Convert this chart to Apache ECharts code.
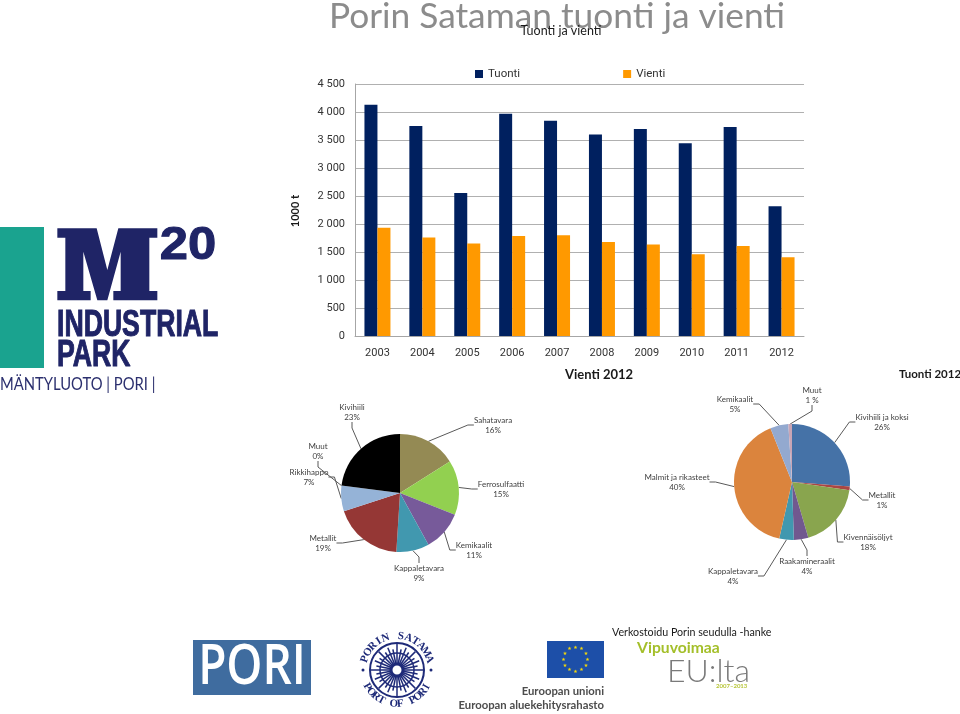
<!DOCTYPE html>
<html>
<head>
<meta charset="utf-8">
<title>Porin Sataman tuonti ja vienti</title>
<script src="https://cdn.jsdelivr.net/npm/echarts@6/dist/echarts.min.js"></script>
<style>
html, body { margin: 0; padding: 0; background: #fff; }
#main { width: 960px; height: 714px; }
</style>
</head>
<body>
<div id="main"></div>
<script>
// bar chart, 1000 t
const years = ['2003', '2004', '2005', '2006', '2007', '2008', '2009', '2010', '2011', '2012'];
const tuonti = [4130, 3750, 2555, 3970, 3845, 3600, 3695, 3440, 3730, 2315];
const vienti = [1935, 1760, 1650, 1785, 1800, 1680, 1635, 1460, 1605, 1405];

// pies, %
const vientiNames = ['Sahatavara', 'Ferrosulfaatti', 'Kemikaalit', 'Kappaletavara', 'Metallit', 'Rikkihappo', 'Muut', 'Kivihiili'];
const vientiShares = [16, 15, 11, 9, 19, 7, 0, 23];
const tuontiNames = ['Kivihiili ja koksi', 'Metallit', 'Kivennäisöljyt', 'Raakamineraalit', 'Kappaletavara', 'Malmit ja rikasteet', 'Kemikaalit', 'Muut'];
const tuontiShares = [26, 1, 18, 4, 4, 40, 5, 1];

const vientiColors = ['#948A54', '#92D050', '#775A9A', '#4198AF', '#953735', '#95B3D7', '#BBBBBB', '#000000'];
const tuontiColors = ['#4572A7', '#AA4643', '#89A54E', '#71588F', '#4198AF', '#DB843D', '#93A9CF', '#C9A5B5'];

// label centres of the pies, same order as the names
const vientiSpots = [[493, 425], [501, 489], [474, 550], [419, 573], [323, 543], [309, 477], [318, 451], [352, 412]];
const tuontiSpots = [[882, 422], [882, 500], [868, 542], [807, 566], [733, 576], [677, 482], [735, 404], [812, 395]];

const FONT = 'Lato';
const AXIS_FONT = 'Roboto';

function pieSeries(names, shares, colors, spots, center, radius) {
  return {
    type: 'pie',
    center: center,
    radius: radius,
    startAngle: 90,
    clockwise: true,
    avoidLabelOverlap: false,
    stillShowZeroSum: true,
    animation: false,
    data: names.map((n, i) => ({ name: n, value: shares[i], itemStyle: { color: colors[i] } })),
    label: {
      show: true,
      fontFamily: FONT,
      fontSize: 8,
      lineHeight: 10,
      color: '#404040',
      align: 'center',
      formatter: p => p.name + '\n' + p.value + (names === tuontiNames && p.name === 'Muut' ? ' %' : '%')
    },
    labelLine: { show: true, length: 8, length2: 6, lineStyle: { color: '#595959', width: 1 } },
    labelLayout: p => ({ x: spots[p.dataIndex][0], y: spots[p.dataIndex][1], align: 'center', verticalAlign: 'middle' })
  };
}

// logos and loose texts
const graphics = [];
function txt(x, y, text, size, color, extra) {
  const o = Object.assign({ x: x, y: y, text: text, fontFamily: FONT, fontSize: size, fill: color, textAlign: 'left', textVerticalAlign: 'middle' }, extra && extra.style);
  graphics.push(Object.assign({ type: 'text', silent: true, style: o }, extra && extra.el));
}

txt(557, 17, 'Porin Sataman tuonti ja vienti', 35.3, '#8c8c8c', { style: { textAlign: 'center' } });
txt(561, 31, 'Tuonti ja vienti', 12.5, '#1a1a1a', { style: { textAlign: 'center' } });
txt(295, 211, '1000 t', 11, '#1a1a1a', { style: { textAlign: 'center', fontWeight: 'bold' }, el: { x: 0, y: 0, rotation: Math.PI / 2, originX: 295, originY: 211 } });
txt(599, 375, 'Vienti 2012', 13, '#1a1a1a', { style: { textAlign: 'center', fontWeight: 'bold' } });
txt(930, 374, 'Tuonti 2012', 11.5, '#1a1a1a', { style: { textAlign: 'center', fontWeight: 'bold' } });

// M20 logo
const navy = '#1F2466';
graphics.push({ type: 'rect', silent: true, shape: { x: 0, y: 227, width: 44, height: 141 }, style: { fill: '#1AA38F' } });
const mOutline = [[172, 40], [290, 40], [322, 165], [355, 40], [472, 40], [472, 68], [448, 68], [448, 228], [472, 228], [472, 256], [340, 256], [340, 228], [362, 228], [362, 110], [322, 256], [292, 256], [250, 110], [250, 228], [272, 228], [272, 256], [172, 256], [172, 228], [196, 228], [196, 68], [172, 68]];
graphics.push({ type: 'polygon', silent: true, shape: { points: mOutline.map(p => [p[0] / 3, p[1] / 3 + 215]) }, style: { fill: navy } });
txt(188, 246, '20', 47, navy, { style: { textAlign: 'center', fontFamily: 'Liberation Sans', fontWeight: 'bold', stroke: navy, lineWidth: 1 }, el: { x: 0, y: 0, scaleX: 1.08, originX: 188, originY: 246 } });
txt(57, 326, 'INDUSTRIAL', 36, navy, { style: { fontFamily: 'Liberation Sans', fontWeight: 'bold', stroke: navy, lineWidth: 1 }, el: { x: 0, y: 0, scaleX: 0.74, originX: 57, originY: 326 } });
txt(57, 356, 'PARK', 36, navy, { style: { fontFamily: 'Liberation Sans', fontWeight: 'bold', stroke: navy, lineWidth: 1 }, el: { x: 0, y: 0, scaleX: 0.74, originX: 57, originY: 356 } });
txt(0, 385, 'MÄNTYLUOTO | PORI |', 17, '#2b2f6e', { el: { x: 0, y: 0, scaleX: 0.87, originX: 0, originY: 385 } });

// Pori logo
graphics.push({ type: 'rect', silent: true, shape: { x: 193, y: 640, width: 118, height: 55 }, style: { fill: '#3F6C9F' } });
txt(252, 668, 'PORI', 56, '#ffffff', { style: { textAlign: 'center', fontFamily: 'Open Sans', fontWeight: 600 }, el: { x: 0, y: 0, scaleX: 0.82, originX: 252, originY: 668 } });

// Port of Pori compass seal
const sealX = 397, sealY = 670, blue = '#1E2A78';
graphics.push({ type: 'circle', silent: true, shape: { cx: sealX, cy: sealY, r: 27 }, style: { fill: '#fff', stroke: blue, lineWidth: 2 } });
graphics.push({ type: 'circle', silent: true, shape: { cx: sealX, cy: sealY, r: 17 }, style: { fill: 'none', stroke: blue, lineWidth: 1.5 } });
for (let i = 0; i < 32; i++) {
  const a = i * Math.PI / 16, r = i % 4 === 0 ? 26 : (i % 2 ? 21 : 24);
  graphics.push({ type: 'line', silent: true, shape: { x1: sealX, y1: sealY, x2: sealX + r * Math.cos(a), y2: sealY + r * Math.sin(a) }, style: { stroke: blue, lineWidth: 1.5 } });
}
graphics.push({ type: 'circle', silent: true, shape: { cx: sealX, cy: sealY, r: 6 }, style: { fill: '#fff', stroke: blue, lineWidth: 3 } });
function ring(word, midDeg, stepDeg, r, flip) {
  [...word].forEach((ch, i) => {
    const deg = midDeg + (i - (word.length - 1) / 2) * stepDeg * (flip ? -1 : 1);
    const a = deg * Math.PI / 180;
    const x = sealX + r * Math.sin(a), y = sealY - r * Math.cos(a);
    graphics.push({
      type: 'text', silent: true, x: x, y: y, rotation: flip ? -(a + Math.PI) : -a,
      style: { x: 0, y: 0, text: ch, fontFamily: 'Liberation Serif', fontWeight: 'bold', fontSize: 11, fill: blue, textAlign: 'center', textVerticalAlign: 'middle' }
    });
  });
}
ring('PORIN SATAMA', 0, 13, 34, false);
ring('PORT OF PORI', 180, 11, 34, true);
graphics.push({ type: 'circle', silent: true, shape: { cx: sealX - 34, cy: sealY, r: 1.5 }, style: { fill: blue } });
graphics.push({ type: 'circle', silent: true, shape: { cx: sealX + 34, cy: sealY, r: 1.5 }, style: { fill: blue } });

// EU flag
graphics.push({ type: 'rect', silent: true, shape: { x: 547, y: 641, width: 57, height: 37 }, style: { fill: '#1D4FA8' } });
for (let i = 0; i < 12; i++) {
  const a = i * Math.PI / 6;
  txt(575.5 + 12 * Math.cos(a), 659.5 + 12 * Math.sin(a), '★', 5, '#F5D90A', { style: { textAlign: 'center', fontFamily: 'DejaVu Sans' } });
}
txt(604, 691, 'Euroopan unioni', 11.3, '#4d4d4d', { style: { textAlign: 'right', fontWeight: 'bold' } });
txt(604, 705, 'Euroopan aluekehitysrahasto', 11.3, '#4d4d4d', { style: { textAlign: 'right', fontWeight: 'bold' } });

// Vipuvoimaa
txt(612, 633, 'Verkostoidu Porin seudulla -hanke', 10.7, '#1a1a1a');
txt(637, 648, 'Vipuvoimaa', 15.7, '#A4BF2A', { style: { fontWeight: 'bold' } });
txt(667, 672, 'EU:lta', 32, '#7a7a7a', { style: { fontWeight: 300 } });
txt(716, 686, '2007–2013', 6, '#B8C63A', { style: { fontWeight: 'bold' } });

const chart = echarts.init(document.getElementById('main'));
chart.setOption({
  animation: false,
  textStyle: { fontFamily: FONT },
  legend: {
    data: ['Tuonti', 'Vienti'],
    left: 470,
    top: 63,
    itemWidth: 8,
    itemHeight: 8,
    itemGap: 103,
    icon: 'rect',
    textStyle: { fontFamily: AXIS_FONT, fontSize: 11.5, color: '#333' }
  },
  grid: { left: 355, right: 156, top: 84, bottom: 378 },
  xAxis: {
    type: 'category',
    data: years,
    axisTick: { show: false },
    axisLine: { lineStyle: { color: '#a6a6a6', width: 1 } },
    axisLabel: { fontFamily: AXIS_FONT, fontSize: 11, color: '#333', margin: 12 }
  },
  yAxis: {
    type: 'value',
    min: 0,
    max: 4500,
    interval: 500,
    axisTick: { show: false },
    axisLine: { show: true, lineStyle: { color: '#a6a6a6', width: 1 } },
    splitLine: { lineStyle: { color: '#b0b0b0', width: 1 } },
    axisLabel: {
      fontFamily: AXIS_FONT,
      fontSize: 11,
      color: '#333',
      margin: 10,
      formatter: v => String(v).replace(/\B(?=(\d{3})+$)/, ' ')
    }
  },
  series: [
    { name: 'Tuonti', type: 'bar', data: tuonti, barWidth: 13, barGap: '0%', itemStyle: { color: '#00205F' } },
    { name: 'Vienti', type: 'bar', data: vienti, barWidth: 13, barGap: '0%', itemStyle: { color: '#FF9900' } },
    pieSeries(vientiNames, vientiShares, vientiColors, vientiSpots, [400, 493], 59),
    pieSeries(tuontiNames, tuontiShares, tuontiColors, tuontiSpots, [792, 482], 58)
  ],
  graphic: { elements: graphics }
});
</script>
</body>
</html>
